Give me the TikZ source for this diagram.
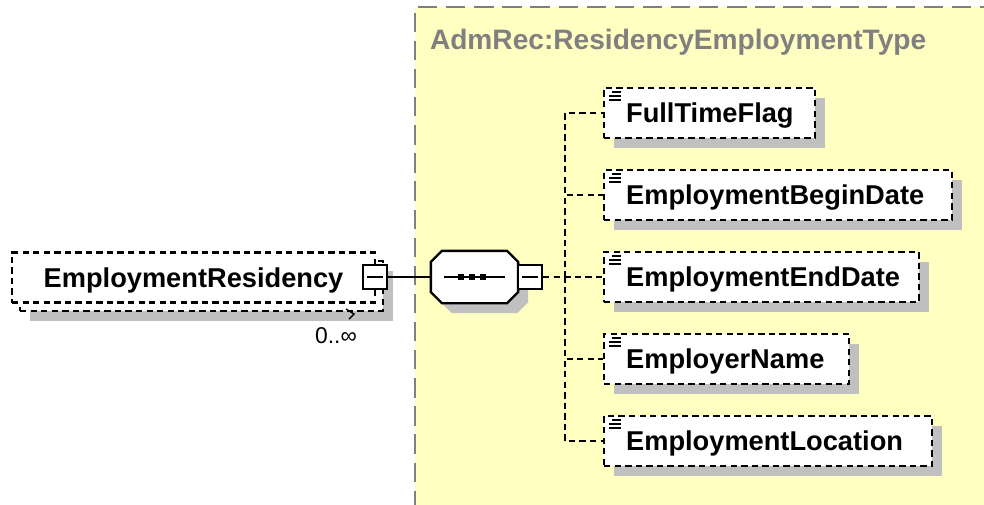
\documentclass[tikz,border=0pt]{standalone}
\usepackage{fontspec}
\setmainfont{Liberation Sans}
\usetikzlibrary{shadows}
\definecolor{typebg}{RGB}{255,255,194}
\definecolor{shadegray}{RGB}{192,192,192}
\definecolor{typegray}{RGB}{128,128,128}
\tikzset{
  box/.style={draw, dash pattern=on 3.6pt off 2.4pt, fill=white, minimum height=10mm,
    inner sep=0pt, font=\fontsize{15.5}{18}\selectfont\bfseries},
  shade/.style={drop shadow={shadow xshift=2mm, shadow yshift=-2mm, fill=shadegray, opacity=1}},
  elem/.style={box, shade, text width=#1, text depth=0pt, align=left, anchor=west},
  minus/.style={draw, solid, fill=white, minimum size=4.8mm, inner sep=0pt,
    path picture={\draw ([xshift=0.8mm]path picture bounding box.west) -- ([xshift=-0.8mm]path picture bounding box.east);}},
  conn/.style={dash pattern=on 3.6pt off 2.4pt},
  icon/.style={solid, line width=0.8pt},
}
\begin{document}
\begin{tikzpicture}[x=0.02cm, y=-0.02cm, line width=1.3pt]
  \useasboundingbox (0,0) rectangle (984,504);
  % complex type area
  \fill[typebg] (415,7) rectangle (990,510);
  \draw[typegray, dash pattern=on 11pt off 5pt] (415,510) -- (415,7) -- (990,7);
  \node[anchor=west, text=typegray, font=\fontsize{16}{18}\selectfont\bfseries] (tname) at (423,42) {AdmRec:ResidencyEmploymentType};

  % repeated element
  \node[box, shade, minimum width=72.6mm] (erback) at (201.5,286) {};
  \node[box, minimum width=72.6mm, text depth=0pt] (er) at (193.5,277.5) {EmploymentResidency};
  \node[minus] (erexp) at (375,277) {};
  \draw[line width=0.8pt] (346,309) -- (354,314) -- (349,319);
  \node[font=\fontsize{13}{15}\selectfont] (occ) at (336,336) {0..∞};

  % sequence
  \node[minimum width=17mm, minimum height=10mm, inner sep=0pt] (seq) at (474.5,277) {};
  \draw[fill=white, shade] ([xshift=2.2mm]seq.north west) -- ([xshift=-2.2mm]seq.north east)
    -- ([yshift=-2.2mm]seq.north east) -- ([yshift=2.2mm]seq.south east)
    -- ([xshift=-2.2mm]seq.south east) -- ([xshift=2.2mm]seq.south west)
    -- ([yshift=2.2mm]seq.south west) -- ([yshift=-2.2mm]seq.north west) -- cycle;
  \draw (444,277) -- (505,277);
  \foreach \x in {461,472,483}
    \fill (\x-3,274) rectangle ++(6,6);
  \node[minus] (seqexp) at (530,277) {};
  \draw (erexp.east) -- (seq.west);
  \coordinate (bus) at (565,277);

  % children
  \foreach \name/\txt/\w [count=\i] in {full/FullTimeFlag/42.2mm, begin/EmploymentBeginDate/69.6mm,
      end/EmploymentEndDate/63mm, empname/EmployerName/49mm, loc/EmploymentLocation/65.6mm} {
    \node[elem=\w] (\name) at (603,{31+82*\i}) {\hspace*{4.4mm}\txt};
    \draw[conn] (seqexp.east) -- (bus) |- (\name.west);
    \draw[icon] ([shift={(9,5)}]\name.north west) -- ++(9,0)
      ([shift={(6,9)}]\name.north west) -- ++(12,0)
      ([shift={(6,13)}]\name.north west) -- ++(12,0);
  }
\end{tikzpicture}
\end{document}
